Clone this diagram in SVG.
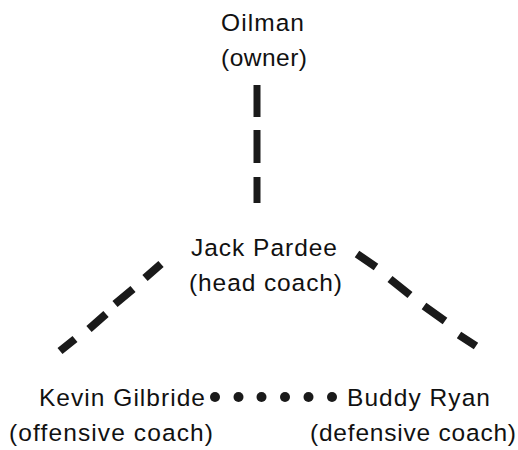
<svg xmlns="http://www.w3.org/2000/svg" width="518" height="450" viewBox="0 0 518 450">
  <style>
    text { font-family: "Liberation Sans", Arial, sans-serif; font-size: 24.5px; fill: #111; }
    .dash { stroke: #1a1a1a; stroke-width: 8; fill: none; stroke-linecap: butt; }
    .dot { fill: #1a1a1a; }
  </style>
  <rect width="518" height="450" fill="#fff"/>
  <g id="connectors">
    <path class="dash" style="stroke-width:7" d="M257 85 V117 M257 130 V163 M257 177 V203"/>
    <path class="dash" d="M161 264 L145 278 M133 289 L115 304 M106 314 L89 329 M75 339 L60 351"/>
    <path class="dash" d="M357 254 L376 267 M390 279 L410 295 M424 306 L445 321 M459 335 L476 346"/>
    <g id="dots">
      <circle class="dot" cx="215" cy="397" r="5"/>
      <circle class="dot" cx="238.5" cy="397" r="5"/>
      <circle class="dot" cx="261.5" cy="397" r="5"/>
      <circle class="dot" cx="285" cy="397" r="5"/>
      <circle class="dot" cx="308.5" cy="397" r="5"/>
      <circle class="dot" cx="332" cy="397" r="5"/>
    </g>
  </g>
  <g id="oilman">
    <text x="221" y="31" textLength="83" lengthAdjust="spacing">Oilman</text>
    <text x="221" y="66" textLength="86" lengthAdjust="spacing">(owner)</text>
  </g>
  <g id="pardee">
    <text x="191" y="256" textLength="146" lengthAdjust="spacing">Jack Pardee</text>
    <text x="189" y="291" textLength="153" lengthAdjust="spacing">(head coach)</text>
  </g>
  <g id="gilbride">
    <text x="39" y="406" textLength="166" lengthAdjust="spacing">Kevin Gilbride</text>
    <text x="9" y="441" textLength="204" lengthAdjust="spacing">(offensive coach)</text>
  </g>
  <g id="ryan">
    <text x="347" y="406" textLength="143" lengthAdjust="spacing">Buddy Ryan</text>
    <text x="310" y="441" textLength="206" lengthAdjust="spacing">(defensive coach)</text>
  </g>
</svg>
